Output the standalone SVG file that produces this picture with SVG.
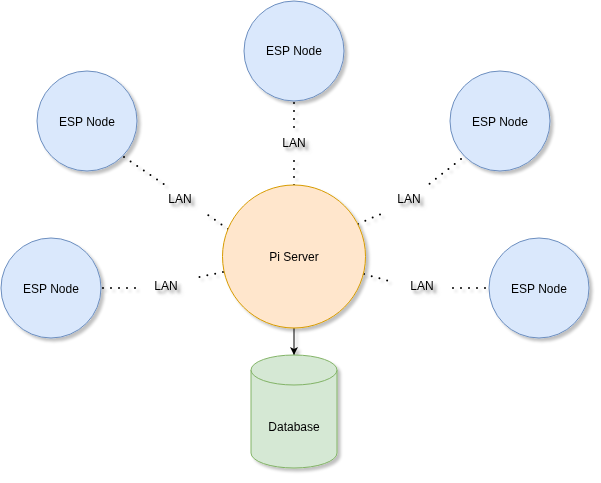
<svg xmlns="http://www.w3.org/2000/svg" width="601" height="483" viewBox="0 0 601 483">
<defs>
<filter id="sh" x="-20%" y="-20%" width="150%" height="150%">
<feGaussianBlur in="SourceAlpha" stdDeviation="1.7"/>
<feOffset dx="3" dy="3" result="b"/>
<feComponentTransfer><feFuncA type="linear" slope="0.25"/></feComponentTransfer>
<feMerge><feMergeNode/><feMergeNode in="SourceGraphic"/></feMerge>
</filter>
<marker id="arr" markerWidth="10" markerHeight="10" refX="8" refY="4" orient="auto" markerUnits="userSpaceOnUse">
<path d="M0,0 L8,4 L0,8 L2,4 Z" fill="#000"/>
</marker>
</defs>
<style>
.esp{fill:#dae8fc;stroke:#6c8ebf;stroke-width:1}
.pi{fill:#ffe6cc;stroke:#d79b00;stroke-width:1}
.db{fill:#d5e8d4;stroke:#82b366;stroke-width:1}
.t{font-family:"Liberation Sans",Arial,sans-serif;font-size:12px;fill:#000;text-anchor:middle}
.dot{fill:none;stroke:#000;stroke-width:2;stroke-linecap:round;stroke-dasharray:0 8}
</style>
<rect width="601" height="483" fill="#fff"/>
<g id="connectors" filter="url(#sh)">
<line class="dot" x1="294" y1="103" x2="294" y2="128"/>
<line class="dot" x1="294" y1="185" x2="294" y2="160"/>
<line class="dot" x1="124" y1="157" x2="165" y2="185"/>
<line class="dot" x1="228" y1="229" x2="208" y2="215"/>
<line class="dot" x1="103" y1="288" x2="137" y2="288"/>
<line class="dot" x1="223" y1="272" x2="199" y2="277"/>
<line class="dot" x1="461" y1="159" x2="428" y2="185"/>
<line class="dot" x1="358" y1="224" x2="381" y2="214"/>
<line class="dot" x1="485" y1="288" x2="452" y2="288"/>
<line class="dot" x1="364" y1="274" x2="393" y2="282"/>
<line x1="294" y1="328" x2="294" y2="355" stroke="#000" stroke-width="1" marker-end="url(#arr)"/>
<g filter="url(#sh)">
<text class="t" x="294" y="147">LAN</text>
<text class="t" x="180" y="203">LAN</text>
<text class="t" x="166" y="290">LAN</text>
<text class="t" x="409" y="203">LAN</text>
<text class="t" x="422" y="290">LAN</text>
</g>
</g>
<g id="esp-top" filter="url(#sh)">
<circle class="esp" cx="294" cy="51" r="50"/>
<text class="t" x="294" y="55">ESP Node</text>
</g>
<g id="esp-topleft" filter="url(#sh)">
<circle class="esp" cx="87" cy="121" r="50"/>
<text class="t" x="87" y="126">ESP Node</text>
</g>
<g id="esp-topright" filter="url(#sh)">
<circle class="esp" cx="500" cy="121" r="50"/>
<text class="t" x="500" y="126">ESP Node</text>
</g>
<g id="esp-left" filter="url(#sh)">
<circle class="esp" cx="51" cy="288" r="50"/>
<text class="t" x="51" y="293">ESP Node</text>
</g>
<g id="esp-right" filter="url(#sh)">
<circle class="esp" cx="539" cy="288" r="50"/>
<text class="t" x="539" y="293">ESP Node</text>
</g>
<g id="pi-server" filter="url(#sh)">
<circle class="pi" cx="294" cy="256.5" r="71.5"/>
<text class="t" x="294" y="261">Pi Server</text>
</g>
<g id="database" filter="url(#sh)">
<path class="db" d="M251,370 A43,15 0 0 1 337,370 L337,453 A43,15 0 0 1 251,453 Z"/>
<path class="db" d="M251,370 A43,15 0 0 0 337,370" fill="none"/>
<text class="t" x="294" y="431">Database</text>
</g>
</svg>
